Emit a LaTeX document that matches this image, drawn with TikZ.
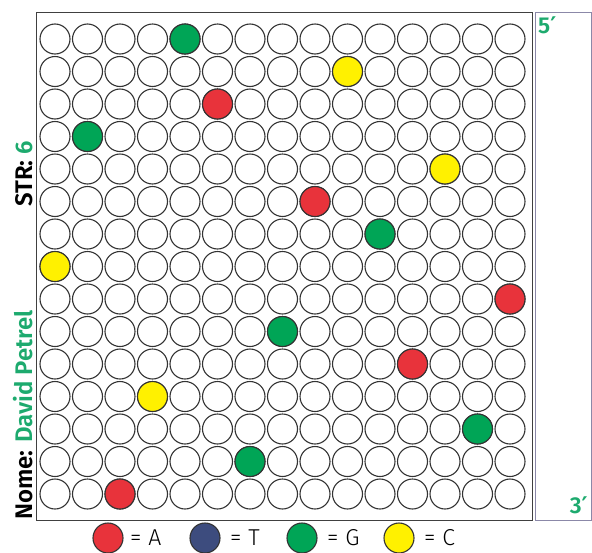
\documentclass[tikz,border=0pt]{standalone}
\usepackage{fontspec}
\setmainfont{Fira Sans}
\newfontfamily\labfont{Fira Sans SemiBold}
\newfontfamily\legfont{Fira Sans Light}
\newfontfamily\primefont{DejaVu Sans Bold}
\definecolor{cred}{HTML}{E8333B}
\definecolor{cgreen}{HTML}{00A556}
\definecolor{cyellow}{HTML}{FFF100}
\definecolor{cblue}{HTML}{3D4C7E}
\definecolor{tgreen}{HTML}{1DAA6E}
\definecolor{frame}{HTML}{8B88A8}
\newcommand{\pr}{{\primefont\char"2032}}
\tikzset{
  well/.style={circle,draw=black!80,line width=1.1pt,minimum size=30pt,inner sep=0pt},
  leg/.style={circle,draw=black!80,line width=1.1pt,minimum size=30pt,inner sep=0pt},
  legtxt/.style={anchor=west,font=\legfont\fontsize{23}{23}\selectfont,inner sep=0pt},
  side/.style={font=\labfont\fontsize{24}{24}\selectfont,inner sep=0pt,rotate=90,anchor=south west},
  endlab/.style={text=tgreen,font=\labfont\fontsize{23}{23}\selectfont,inner sep=0pt},
}
\begin{document}
\begin{tikzpicture}[x=1pt,y=-1pt]
\useasboundingbox (0,0) rectangle (592,552);
\node[draw=black!75,line width=1.2pt,minimum width=496pt,minimum height=508pt,inner sep=0pt,anchor=north west] (plate) at (35.5,11.5) {};
\node[draw=frame,line width=1.1pt,minimum width=56pt,minimum height=508pt,inner sep=0pt,anchor=north west] (strip) at (535,11.5) {};
\node[endlab,anchor=base west] (p5) at (538,33) {5\pr};
\node[endlab,anchor=base east] (p3) at (588,513) {3\pr};
\foreach \r in {1,...,15}{
  \foreach \c in {1,...,15}{
    \node[well] (w\r-\c) at ({55+(\c-1)*32.5},{39+(\r-1)*32.5}) {};
  }
}
\foreach \r/\c/\col in {1/5/cgreen,2/10/cyellow,3/6/cred,4/2/cgreen,5/13/cyellow,6/9/cred,7/11/cgreen,8/1/cyellow,9/15/cred,10/8/cgreen,11/12/cred,12/4/cyellow,13/14/cgreen,14/7/cgreen,15/3/cred}{
  \node[well,fill=\col] at (w\r-\c) {};
}
\node[side] (name) at (33,520) {Nome: \textcolor{tgreen}{David Petrel}};
\node[side] (str) at (33,207) {STR: \textcolor{tgreen}{6}};
\node[leg,fill=cred] (la) at (108,538) {};
\node[legtxt] (ta) at (130,538) {=\hspace{0.3em}A};
\node[leg,fill=cblue] (lt) at (205,538) {};
\node[legtxt] (tt) at (230,538) {=\hspace{0.3em}T};
\node[leg,fill=cgreen] (lg) at (302,538) {};
\node[legtxt] (tg) at (327,538) {=\hspace{0.3em}G};
\node[leg,fill=cyellow] (lc) at (399,538) {};
\node[legtxt] (tc) at (424,538) {=\hspace{0.3em}C};
\end{tikzpicture}
\end{document}
